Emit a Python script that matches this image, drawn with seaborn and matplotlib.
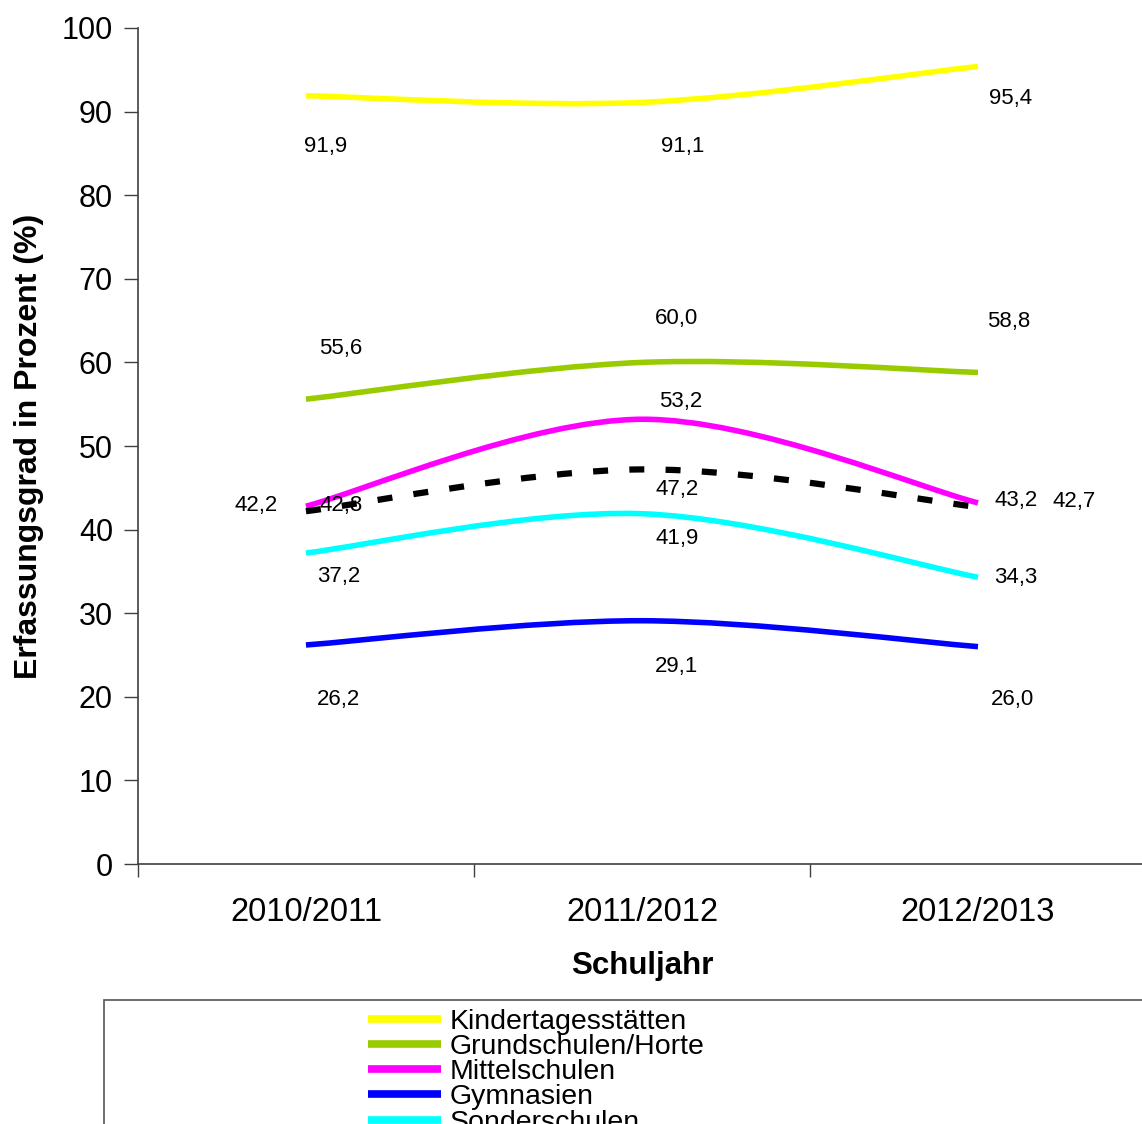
import numpy as np
import pandas as pd
import matplotlib
matplotlib.use("Agg")
import matplotlib.pyplot as plt
import seaborn as sns
from matplotlib.path import Path
from matplotlib.patches import PathPatch, Rectangle
from matplotlib.lines import Line2D

# ---- data ----
years = ["2010/2011", "2011/2012", "2012/2013"]
kita = [91.9, 91.1, 95.4]
grundschulen = [55.6, 60.0, 58.8]
mittelschulen = [42.8, 53.2, 43.2]
gymnasien = [26.2, 29.1, 26.0]
sonderschulen = [37.2, 41.9, 34.3]
insgesamt = [42.2, 47.2, 42.7]

series_names = ["Kindertagesstätten", "Grundschulen/Horte", "Mittelschulen",
                "Gymnasien", "Sonderschulen", "Insgesamt"]
series_values = [kita, grundschulen, mittelschulen, gymnasien, sonderschulen, insgesamt]

# ---- styles ----
colors = ["#FFFF00", "#99CC00", "#FF00FF", "#0000FF", "#00FFFF", "#000000"]
# label offsets in pixels (dx, dy) per series per year (dy positive = down)
label_offsets = [
    [(20, 51), (41, 44), (33, 32)],
    [(35, -51), (35, -44), (31, -51)],
    [(35, -1), (39, -18), (38, -2)],
    [(33, 55), (35, 46), (35, 53)],
    [(33, 23), (35, 25), (38, 0)],
    [(-50, -6), (35, 20), (96, -6)],
]

sns.set_theme(style="white")
plt.rcParams["font.family"] = ["Liberation Sans", "DejaVu Sans"]
plt.rcParams["text.color"] = "black"
plt.rcParams["axes.labelcolor"] = "black"
plt.rcParams["xtick.color"] = "black"
plt.rcParams["ytick.color"] = "black"

rows = []
for name, vals in zip(series_names, series_values):
    for i, v in enumerate(vals):
        rows.append({"pos": i, "Schuljahr": years[i], "Serie": name, "Wert": v})
df = pd.DataFrame(rows)

fig = plt.figure(figsize=(11.42, 11.24), dpi=100)
ax = fig.add_axes([0.1208, 0.2313, 0.8827, 0.7438])

sns.lineplot(data=df, x="pos", y="Wert", hue="Serie", hue_order=series_names,
             palette=colors, ax=ax, legend=False, sort=False)

def smooth_path(xs, ys):
    pts = np.column_stack([xs, ys]).astype(float)
    n = len(pts)
    verts = [pts[0]]
    codes = [Path.MOVETO]
    for i in range(n - 1):
        p0 = pts[i - 1] if i > 0 else pts[i]
        p1 = pts[i]
        p2 = pts[i + 1]
        p3 = pts[i + 2] if i + 2 < n else pts[i + 1]
        c1 = p1 + (p2 - p0) / 6.0
        c2 = p2 - (p3 - p1) / 6.0
        verts += [c1, c2, p2]
        codes += [Path.CURVE4] * 3
    return Path(verts, codes)

handles = []
for line, name, col in zip(ax.lines, series_names, colors):
    xy = line.get_xydata()
    line.set_visible(False)
    if name == "Insgesamt":
        patch = PathPatch(smooth_path(xy[:, 0], xy[:, 1]), fill=False,
                          edgecolor=col, lw=4.5, linestyle=(0, (2.4, 3.4)),
                          capstyle="butt", zorder=4)
        handles.append(Line2D([], [], color=col, lw=4.5, linestyle=(0, (2.4, 3.4)),
                              dash_capstyle="butt"))
    else:
        patch = PathPatch(smooth_path(xy[:, 0], xy[:, 1]), fill=False,
                          edgecolor=col, lw=4.0, capstyle="butt", zorder=3)
        handles.append(Line2D([], [], color=col, lw=5.5, solid_capstyle="butt"))
    ax.add_patch(patch)

# data labels
for vals, offs in zip(series_values, label_offsets):
    for i, (v, (dx, dy)) in enumerate(zip(vals, offs)):
        ax.annotate(f"{v:.1f}".replace(".", ","), xy=(i, v),
                    xytext=(dx, -dy), textcoords="offset pixels",
                    ha="center", va="center", fontsize=16, color="black", zorder=6)

ax.set_xlim(-0.5, 2.5)
ax.set_ylim(0, 100)
ax.set_yticks(np.arange(0, 101, 10))
ax.set_xticks(range(len(years)), labels=years)
ax.set_xticks([-0.5, 0.5, 1.5, 2.5], minor=True)
ax.tick_params(axis="x", which="major", length=0, pad=23.5, labelsize=23.5)
ax.tick_params(axis="x", which="minor", length=9, width=1, color="#404040",
               direction="out", bottom=True)
ax.tick_params(axis="y", length=10, width=1, color="#404040", direction="out",
               left=True, pad=8, labelsize=22)

for s in ["top", "right"]:
    ax.spines[s].set_visible(False)
for s in ["left", "bottom"]:
    ax.spines[s].set_color("#404040")
    ax.spines[s].set_linewidth(1.2)

ax.set_xlabel("Schuljahr", fontsize=22.5, fontweight="bold", labelpad=17)
ax.set_ylabel("Erfassungsgrad in Prozent (%)", fontsize=23, fontweight="bold",
              labelpad=13)
ax.grid(False)

# legend box
fig.patches.append(Rectangle((104 / 1142, -0.3), 1.2, 0.3 + 124 / 1124,
                             transform=fig.transFigure, fill=False,
                             edgecolor="#555555", lw=1.2))
fig.legend(handles, series_names, loc="upper left",
           bbox_to_anchor=(368 / 1142, 1 - 1009 / 1124), frameon=False,
           fontsize=20.5, handlelength=2.55, handletextpad=0.32,
           labelspacing=-0.03, borderpad=0, borderaxespad=0)

fig.savefig("out.png", dpi=100)
